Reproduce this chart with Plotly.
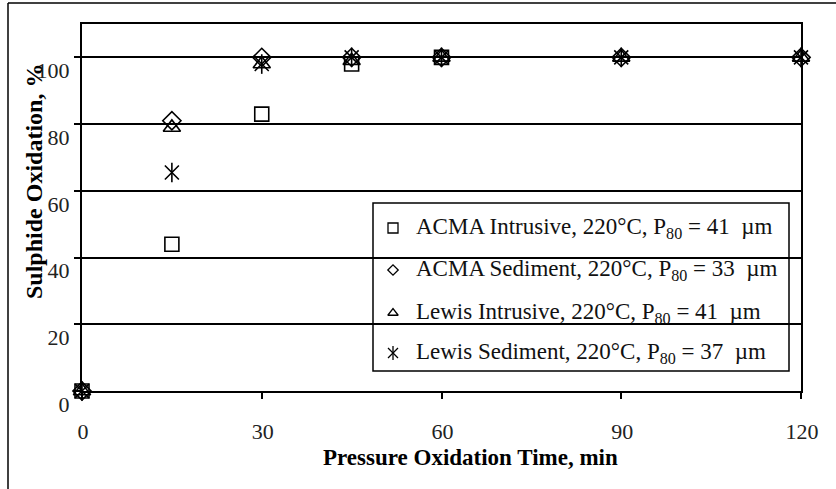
import plotly.graph_objects as go

# Pressure oxidation time (min)
time_acma_intrusive = [0, 15, 30, 45, 60]
time_full = [0, 15, 30, 45, 60, 90, 120]

# Sulphide oxidation (%)
acma_intrusive = [0, 44, 83, 98, 100]
acma_sediment = [0, 81, 100, 100, 100, 100, 100]
lewis_intrusive = [0, 79, 98, 99, 100, 100, 100]
lewis_sediment = [0, 65.5, 98, 100, 100, 100, 100]

series_names = [
    "ACMA Intrusive, 220°C, P<sub>80</sub> = 41  µm",
    "ACMA Sediment, 220°C, P<sub>80</sub> = 33  µm",
    "Lewis Intrusive, 220°C, P<sub>80</sub> = 41  µm",
    "Lewis Sediment, 220°C, P<sub>80</sub> = 37  µm",
]

x_ticks = [0, 30, 60, 90, 120]
y_ticks = [0, 20, 40, 60, 80, 100]

SERIF = "Liberation Serif, Times New Roman, serif"
W, H = 836, 489
L, R, T, B = 82, 801, 24, 391  # plot area in pixels


def px(x):
    return (x - L) / (R - L)


def py(y):
    return (B - y) / (B - T)


fig = go.Figure()

mk = dict(color="black", width=1.6)

fig.add_trace(go.Scatter(
    x=time_acma_intrusive, y=acma_intrusive, mode="markers", cliponaxis=False,
    marker=dict(symbol="square-open", size=14, color="black", line=mk)))
fig.add_trace(go.Scatter(
    x=time_full, y=acma_sediment, mode="markers", cliponaxis=False,
    marker=dict(symbol="diamond-open", size=14, color="black", line=mk)))
fig.add_trace(go.Scatter(
    x=time_full, y=lewis_intrusive, mode="markers", cliponaxis=False,
    marker=dict(symbol="triangle-up-open", size=15, color="black", line=mk)))
# six-armed asterisk = diagonal cross + vertical bar
for sym in ("x-thin-open", "line-ns-open"):
    fig.add_trace(go.Scatter(
        x=time_full, y=lewis_sediment, mode="markers", cliponaxis=False,
        marker=dict(symbol=sym, size=14, color="black", line=mk)))

# legend entries drawn on an overlay axis in plot-fraction units
leg_rows_px = [228, 270, 313, 353]
leg_symbols = ["square-open", "diamond-open", "triangle-up-open", "x-thin-open"]
leg_sizes = [10, 8, 9, 10]
for sym, yy, sz in zip(leg_symbols, leg_rows_px, leg_sizes):
    fig.add_trace(go.Scatter(
        x=[px(393)], y=[py(yy)], xaxis="x2", yaxis="y2", mode="markers",
        cliponaxis=False,
        marker=dict(symbol=sym, size=sz, color="black", line=dict(color="black", width=1.3))))
fig.add_trace(go.Scatter(
    x=[px(393)], y=[py(leg_rows_px[3])], xaxis="x2", yaxis="y2", mode="markers",
    cliponaxis=False,
    marker=dict(symbol="line-ns-open", size=10, color="black", line=dict(color="black", width=1.3))))

shapes = [
    dict(type="rect", xref="paper", yref="paper",
         x0=px(373), x1=px(789), y0=py(371), y1=py(203),
         line=dict(color="black", width=1.5), fillcolor="white", layer="between"),
    # outer frame
    dict(type="line", xref="paper", yref="paper", x0=px(8), x1=px(840), y0=py(3), y1=py(3),
         line=dict(color="black", width=1.5)),
    dict(type="line", xref="paper", yref="paper", x0=px(8), x1=px(8), y0=py(3), y1=py(492),
         line=dict(color="black", width=1.5)),
]

annotations = []
for name, yy in zip(series_names, leg_rows_px):
    annotations.append(dict(
        x=px(414), y=py(yy), xref="paper", yref="paper", xanchor="left", yanchor="middle",
        text=name, showarrow=False, font=dict(family=SERIF, size=23, color="#111")))

annotations.append(dict(
    x=px(34), y=py(182), xref="paper", yref="paper", xanchor="center", yanchor="middle",
    text="<b>Sulphide Oxidation, %</b>", textangle=-90, showarrow=False,
    font=dict(family=SERIF, size=24, color="black")))
annotations.append(dict(
    x=px(471), y=py(458), xref="paper", yref="paper", xanchor="center", yanchor="middle",
    text="<b>Pressure Oxidation Time, min</b>", showarrow=False,
    font=dict(family=SERIF, size=23, color="black")))

fig.update_layout(
    width=W, height=H,
    margin=dict(l=L, r=W - R, t=T, b=H - B),
    paper_bgcolor="white", plot_bgcolor="white",
    showlegend=False,
    shapes=shapes, annotations=annotations,
    xaxis=dict(
        range=[0, 120], tickvals=x_ticks, ticktext=[str(v) for v in x_ticks],
        showgrid=False, zeroline=False,
        showline=True, linecolor="black", linewidth=2, mirror=True,
        ticks="outside", ticklen=6, tickwidth=1.5, tickcolor="black",
        tickfont=dict(family=SERIF, size=22, color="#222"),
        ticklabelstandoff=14, ticklabelshift=1),
    yaxis=dict(
        range=[0, 110], tickvals=y_ticks, ticktext=[str(v) for v in y_ticks],
        showgrid=True, gridcolor="black", gridwidth=1.6, zeroline=False,
        showline=True, linecolor="black", linewidth=2, mirror=True,
        ticks="outside", ticklen=6, tickwidth=1.5, tickcolor="black",
        tickfont=dict(family=SERIF, size=22, color="#222"),
        ticklabelshift=13, ticklabelstandoff=0),
    xaxis2=dict(overlaying="x", range=[0, 1], visible=False),
    yaxis2=dict(overlaying="y", range=[0, 1], visible=False),
)

fig.write_html("out.html")
